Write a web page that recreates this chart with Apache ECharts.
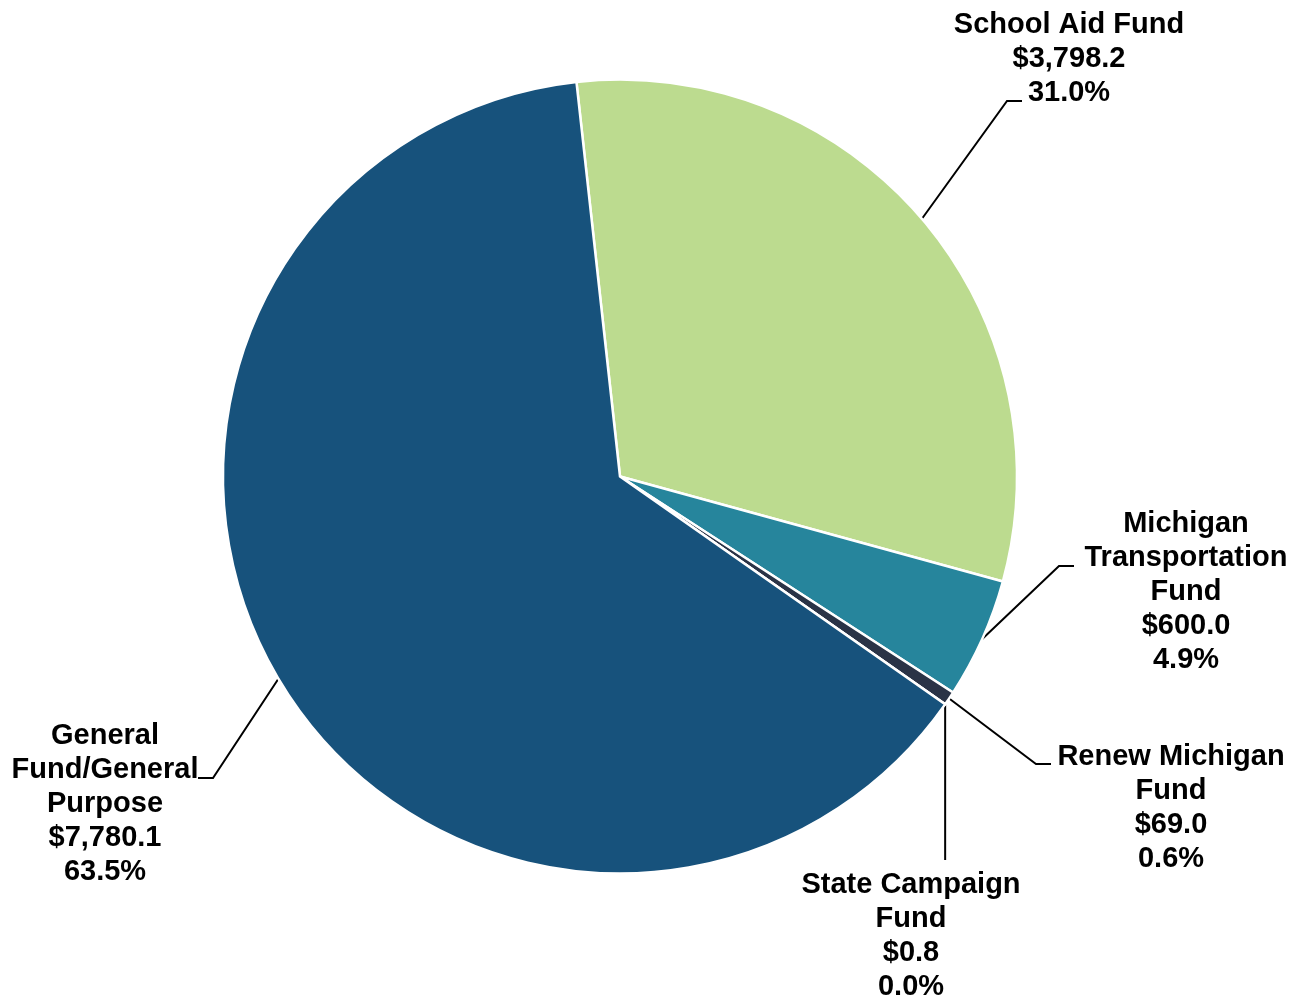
<!DOCTYPE html>
<html>
<head>
<meta charset="utf-8">
<title>Fund Sources</title>
<script src="https://cdn.jsdelivr.net/npm/echarts@6/dist/echarts.min.js"></script>
<style>
  html, body { margin: 0; padding: 0; background: #ffffff; }
  #chart { width: 1304px; height: 1000px; }
</style>
</head>
<body>
<div id="chart"></div>
<script>
// Fund names (as wrapped on the chart) and amounts in millions
const categories = [
  'School Aid Fund',
  'Michigan Transportation Fund',
  'Renew Michigan Fund',
  'State Campaign Fund',
  'General Fund/General Purpose'
];
const labelNames = [
  'School Aid Fund',
  'Michigan\nTransportation\nFund',
  'Renew Michigan\nFund',
  'State Campaign\nFund',
  'General\nFund/General\nPurpose'
];
const amounts = [3798.2, 600.0, 69.0, 0.8, 7780.1];
const colors = ['#bcdb8f', '#26859c', '#2a3346', '#3b4a5e', '#17527c'];

// Pie geometry
const CENTER = [620, 476.5];
const RADIUS = 397;
const START_ANGLE = 96.3;

// Label placement: block centre x, block top y, and where each leader line ends
const labelSpots = [
  { x: 1069, y: 8,   end: [1022, 101], side: 1 },
  { x: 1186, y: 507, end: [1074, 566], side: 1 },
  { x: 1171, y: 740, end: [1051, 764], side: 1 },
  { x: 911,  y: 868, end: [null, 860], side: 0 },
  { x: 105,  y: 719, end: [198, 778],  side: -1 }
];
const ELBOW = 15;

const total = amounts.reduce((a, b) => a + b, 0);

function fmtMoney(v) {
  return '$' + v.toLocaleString('en-US', { minimumFractionDigits: 1, maximumFractionDigits: 1 });
}

// Fallback: point on the outer edge at a slice's mid angle
function edgePoint(i) {
  let before = 0;
  for (let k = 0; k < i; k++) before += amounts[k];
  const mid = (before + amounts[i] / 2) / total * 360;
  const a = (START_ANGLE - mid) * Math.PI / 180;
  return [CENTER[0] + RADIUS * Math.cos(a), CENTER[1] - RADIUS * Math.sin(a)];
}

const chart = echarts.init(document.getElementById('chart'), null, { renderer: 'canvas' });

chart.setOption({
  animation: false,
  backgroundColor: '#ffffff',
  series: [{
    type: 'pie',
    center: CENTER,
    radius: RADIUS,
    startAngle: START_ANGLE,
    clockwise: true,
    avoidLabelOverlap: false,
    percentPrecision: 2,
    data: categories.map((name, i) => ({
      name: name,
      value: amounts[i],
      itemStyle: { color: colors[i] }
    })),
    itemStyle: { borderColor: '#ffffff', borderWidth: 2.5 },
    emphasis: { disabled: true },
    label: {
      show: true,
      position: 'outside',
      color: '#000000',
      fontFamily: 'Liberation Sans, Arial, sans-serif',
      fontWeight: 'bold',
      fontSize: 29,
      lineHeight: 34,
      align: 'center',
      formatter: function (p) {
        return labelNames[p.dataIndex] + '\n' + fmtMoney(p.value) + '\n' + p.percent.toFixed(1) + '%';
      }
    },
    labelLine: {
      show: true,
      length: 20,
      length2: 15,
      lineStyle: { color: '#000000', width: 2 }
    },
    labelLayout: function (params) {
      const i = params.dataIndex;
      const spot = labelSpots[i];
      const start = (params.labelLinePoints && params.labelLinePoints[0]) || edgePoint(i);
      let pts;
      if (spot.side === 0) {
        const endPt = [start[0], spot.end[1]];
        pts = [start, endPt, endPt];
      } else {
        const end = spot.end;
        const elbow = [end[0] - spot.side * ELBOW, end[1]];
        pts = [start, elbow, end];
      }
      return {
        x: spot.x,
        y: spot.y,
        align: 'center',
        verticalAlign: 'top',
        labelLinePoints: pts
      };
    }
  }]
});
</script>
</body>
</html>
